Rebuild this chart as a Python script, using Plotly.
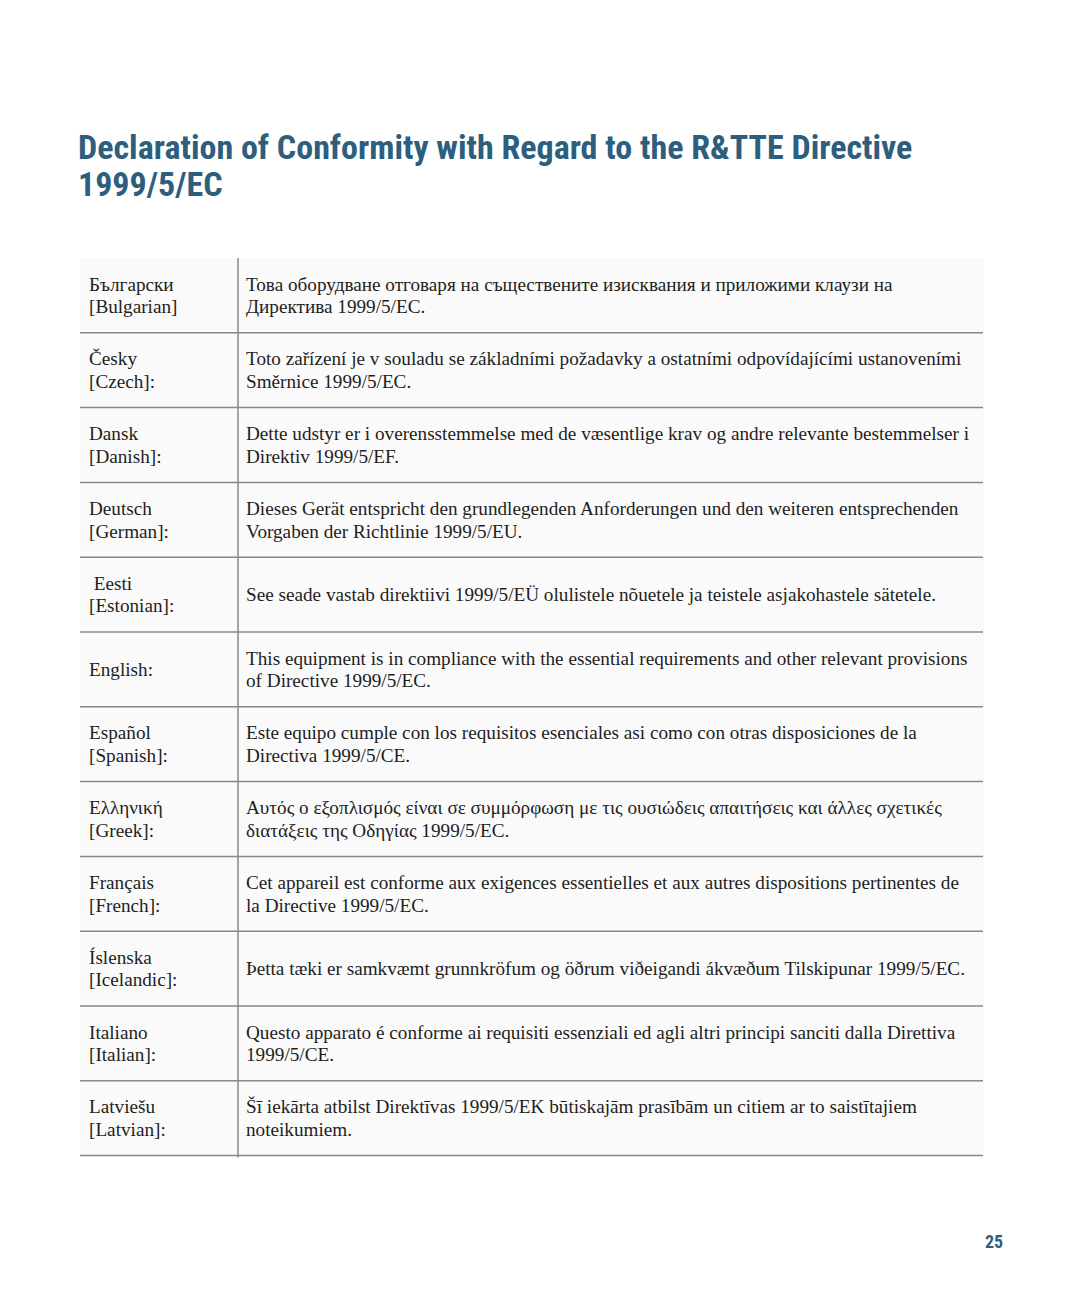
import plotly.graph_objects as go

TITLE_LINES = ["Declaration of Conformity with Regard to the R&TTE Directive", "1999/5/EC"]
PAGE_NUMBER = "25"

LANG_LABELS = [
    ["Български", "[Bulgarian]"],
    ["Česky", "[Czech]:"],
    ["Dansk", "[Danish]:"],
    ["Deutsch", "[German]:"],
    [" Eesti", "[Estonian]:"],
    ["English:"],
    ["Español", "[Spanish]:"],
    ["Ελληνική", "[Greek]:"],
    ["Français", "[French]:"],
    ["Íslenska", "[Icelandic]:"],
    ["Italiano", "[Italian]:"],
    ["Latviešu", "[Latvian]:"],
]

DECLARATIONS = [
    ["Това оборудване отговаря на съществените изисквания и приложими клаузи на", "Директива 1999/5/EC."],
    ["Toto zařízení je v souladu se základními požadavky a ostatními odpovídajícími ustanoveními", "Směrnice 1999/5/EC."],
    ["Dette udstyr er i overensstemmelse med de væsentlige krav og andre relevante bestemmelser i", "Direktiv 1999/5/EF."],
    ["Dieses Gerät entspricht den grundlegenden Anforderungen und den weiteren entsprechenden", "Vorgaben der Richtlinie 1999/5/EU."],
    ["See seade vastab direktiivi 1999/5/EÜ olulistele nõuetele ja teistele asjakohastele sätetele."],
    ["This equipment is in compliance with the essential requirements and other relevant provisions", "of Directive 1999/5/EC."],
    ["Este equipo cumple con los requisitos esenciales asi como con otras disposiciones de la", "Directiva 1999/5/CE."],
    ["Αυτός ο εξοπλισμός είναι σε συμμόρφωση με τις ουσιώδεις απαιτήσεις και άλλες σχετικές", "διατάξεις της Οδηγίας 1999/5/EC."],
    ["Cet appareil est conforme aux exigences essentielles et aux autres dispositions pertinentes de", "la Directive 1999/5/EC."],
    ["Þetta tæki er samkvæmt grunnkröfum og öðrum viðeigandi ákvæðum Tilskipunar 1999/5/EC."],
    ["Questo apparato é conforme ai requisiti essenziali ed agli altri principi sanciti dalla Direttiva", "1999/5/CE."],
    ["Šī iekārta atbilst Direktīvas 1999/5/EK būtiskajām prasībām un citiem ar to saistītajiem", "noteikumiem."],
]

W, H = 1080, 1311
PAGE_OFFSET = 8  # page body margin
TITLE_COLOR = "#2d5e7e"
TEXT_COLOR = "#1e1e1e"
LINE_COLOR = "#888888"
TABLE_TOP = 258.0
ROW_H = 74.8
LEFT, RIGHT = 80, 984
COL_X = 238
LABEL_X, TEXT_X = 87, 244
LINE_GAP = 22.5
SERIF = "Liberation Serif, Times New Roman, serif"
COND = "Noto Sans Condensed, Roboto Condensed, Open Sans Condensed, Liberation Sans Narrow, sans-serif"

fig = go.Figure()
shapes = []
annotations = []

n = len(LANG_LABELS)
table_bottom = TABLE_TOP + n * ROW_H

shapes.append(dict(type="rect", xref="x", yref="y", x0=LEFT, x1=RIGHT, y0=TABLE_TOP, y1=table_bottom,
                   fillcolor="#fafafa", line=dict(width=0), layer="below"))
shapes.append(dict(type="line", xref="x", yref="y", x0=COL_X, x1=COL_X, y0=TABLE_TOP, y1=table_bottom + 2,
                   line=dict(color=LINE_COLOR, width=1.5)))

def add_lines(x, center, lines):
    k = len(lines)
    for j, t in enumerate(lines):
        y = center + (j - (k - 1) / 2) * LINE_GAP
        annotations.append(dict(x=x, y=y, xref="x", yref="y", text=t, showarrow=False,
                                xanchor="left", yanchor="middle",
                                font=dict(family=SERIF, size=19.2, color=TEXT_COLOR)))

for i in range(n):
    top = TABLE_TOP + i * ROW_H
    bottom = top + ROW_H
    center = (top + bottom) / 2
    shapes.append(dict(type="line", xref="x", yref="y", x0=LEFT, x1=RIGHT - 1, y0=bottom, y1=bottom,
                       line=dict(color=LINE_COLOR, width=1.5)))
    add_lines(LABEL_X, center, LANG_LABELS[i])
    add_lines(TEXT_X, center, DECLARATIONS[i])

for j, t in enumerate(TITLE_LINES):
    annotations.append(dict(x=76, y=147 + j * 37, xref="x", yref="y",
                            text='<span style="font-stretch:condensed"><b>' + t + "</b></span>", showarrow=False,
                            xanchor="left", yanchor="middle",
                            font=dict(family=COND, size=34, color=TITLE_COLOR)))

annotations.append(dict(x=1005, y=1241, xref="x", yref="y",
                        text='<span style="font-stretch:condensed"><b>' + PAGE_NUMBER + "</b></span>", showarrow=False,
                        xanchor="right", yanchor="middle",
                        font=dict(family=COND, size=18, color=TITLE_COLOR)))

fig.update_layout(
    width=W, height=H,
    margin=dict(l=0, r=0, t=0, b=0),
    paper_bgcolor="white", plot_bgcolor="white",
    xaxis=dict(range=[PAGE_OFFSET, W + PAGE_OFFSET], visible=False, fixedrange=True),
    yaxis=dict(range=[H + PAGE_OFFSET, PAGE_OFFSET], visible=False, fixedrange=True),
    shapes=shapes, annotations=annotations,
    showlegend=False,
)

fig.write_html("out.html")
